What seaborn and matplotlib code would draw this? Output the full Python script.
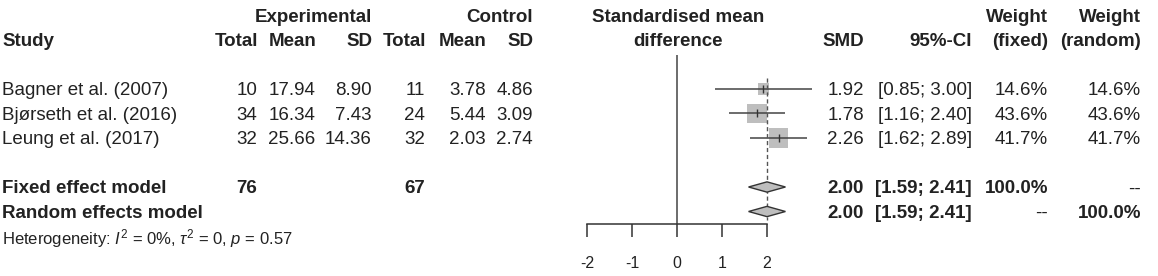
import matplotlib
matplotlib.use("Agg")
import matplotlib.pyplot as plt
import numpy as np
import pandas as pd
import seaborn as sns

# ---- data ----
studies = ["Bagner et al. (2007)", "Bjørseth et al. (2016)", "Leung et al. (2017)"]
exp_total = [10, 34, 32]
exp_mean = [17.94, 16.34, 25.66]
exp_sd = [8.90, 7.43, 14.36]
ctl_total = [11, 24, 32]
ctl_mean = [3.78, 5.44, 2.03]
ctl_sd = [4.86, 3.09, 2.74]
smd = [1.92, 1.78, 2.26]
ci_low = [0.85, 1.16, 1.62]
ci_high = [3.00, 2.40, 2.89]
w_fixed = [14.6, 43.6, 41.7]
w_random = [14.6, 43.6, 41.7]

pooled_smd = 2.00
pooled_low = 1.59
pooled_high = 2.41
exp_sum = 76
ctl_sum = 67
heterogeneity = "Heterogeneity: $I^2$ = 0%, $\\tau^2$ = 0, $p$ = 0.57"
xticks = [-2, -1, 0, 1, 2]

sns.set_style("white")
plt.rcParams["font.family"] = ["Liberation Sans", "DejaVu Sans"]
plt.rcParams["mathtext.fontset"] = "custom"
plt.rcParams["mathtext.rm"] = "Liberation Sans"
plt.rcParams["mathtext.it"] = "Liberation Sans:italic"

W, H = 1158, 276
fig = plt.figure(figsize=(W / 100, H / 100), dpi=100)

# rows: pixel y = 64.5 + 24.5 * row
row_top = -64.5 / 24.5
row_bot = (H - 64.5) / 24.5

ax = fig.add_axes([0, 0, 1, 1])
ax.set_xlim(0, W)
ax.set_ylim(row_bot, row_top)
ax.axis("off")

fs = 13.5
dark = "#222222"

def txt(x, r, s, ha="right", bold=False, size=fs):
    ax.text(x, r, s, ha=ha, va="center_baseline", fontsize=size,
            fontweight="bold" if bold else "normal", color=dark)

# headers
txt(372, -2, "Experimental", bold=True)
txt(533, -2, "Control", bold=True)
txt(678, -2, "Standardised mean", ha="center", bold=True)
txt(678, -1, "difference", ha="center", bold=True)
txt(1048, -2, "Weight", bold=True)
txt(1141, -2, "Weight", bold=True)
txt(2, -1, "Study", ha="left", bold=True)
for x, s in [(258, "Total"), (316, "Mean"), (372, "SD"),
             (426, "Total"), (487, "Mean"), (533, "SD"),
             (864, "SMD"), (972, "95%-CI"), (1048, "(fixed)"), (1141, "(random)")]:
    txt(x, -1, s, bold=True)

# study rows
for i, name in enumerate(studies):
    r = i + 1
    txt(2, r, name, ha="left")
    txt(257, r, f"{exp_total[i]}")
    txt(315, r, f"{exp_mean[i]:.2f}")
    txt(372, r, f"{exp_sd[i]:.2f}")
    txt(425, r, f"{ctl_total[i]}")
    txt(486, r, f"{ctl_mean[i]:.2f}")
    txt(533, r, f"{ctl_sd[i]:.2f}")
    txt(864, r, f"{smd[i]:.2f}")
    txt(972, r, f"[{ci_low[i]:.2f}; {ci_high[i]:.2f}]")
    txt(1048, r, f"{w_fixed[i]:.1f}%")
    txt(1141, r, f"{w_random[i]:.1f}%")

# pooled rows
txt(2, 5, "Fixed effect model", ha="left", bold=True)
txt(257, 5, f"{exp_sum}", bold=True)
txt(425, 5, f"{ctl_sum}", bold=True)
txt(2, 6, "Random effects model", ha="left", bold=True)
for r in (5, 6):
    txt(864, r, f"{pooled_smd:.2f}", bold=True)
    txt(972, r, f"[{pooled_low:.2f}; {pooled_high:.2f}]", bold=True)
txt(1048, 5, "100.0%", bold=True)
txt(1141, 5, "--")
txt(1048, 6, "--")
txt(1141, 6, "100.0%", bold=True)
txt(2, 7, heterogeneity, ha="left", size=12)

# ---- forest panel ----
x0, x1 = 560, 830
axf = fig.add_axes([x0 / W, 0, (x1 - x0) / W, 1])
axf.set_xlim((x0 - 677) / 45, (x1 - 677) / 45)
axf.set_ylim(row_bot, row_top)
axf.patch.set_alpha(0)

rows = [1, 2, 3]
df = pd.DataFrame({"smd": smd, "row": rows, "w": w_fixed})
axf.hlines(rows, ci_low, ci_high, color="#444444", lw=1.1, zorder=2)
sns.scatterplot(data=df, x="smd", y="row", size="w",
                sizes={w: 4.75 * w for w in w_fixed}, marker="s",
                color="#bebebe", edgecolor="none", legend=False,
                ax=axf, zorder=1)
axf.scatter(smd, rows, marker="|", s=40, color="#333333", lw=1, zorder=3)

# zero line and pooled-estimate line
axf.vlines(0, -0.4, 6.5, color="#444444", lw=1.1)
axf.vlines(pooled_smd, 0.55, 6.35, color="#555555", lw=1, linestyles=(0, (3, 2)))

# diamonds
for r in (5, 6):
    axf.fill([pooled_low, pooled_smd, pooled_high, pooled_smd],
             [r, r - 0.21, r, r + 0.21],
             facecolor="#bebebe", edgecolor="#333333", lw=1, zorder=3)

# x axis
for s in ("top", "right", "left"):
    axf.spines[s].set_visible(False)
axf.spines["bottom"].set_position(("data", 6.5))
axf.spines["bottom"].set_bounds(-2, 2)
axf.spines["bottom"].set_color("#333333")
axf.spines["bottom"].set_linewidth(1.1)
axf.set_xticks(xticks)
axf.set_xticklabels([str(t) for t in xticks])
axf.tick_params(axis="x", direction="out", length=9, width=1.1, color="#333333",
                pad=14, labelsize=11.5, labelcolor=dark, bottom=True)
axf.set_yticks([])
axf.set_xlabel("")
axf.set_ylabel("")

fig.savefig("out.png", dpi=100)
